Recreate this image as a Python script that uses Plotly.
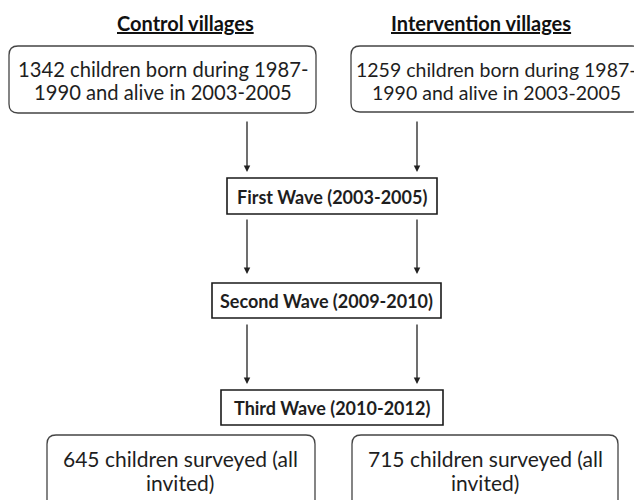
import plotly.graph_objects as go

# ---- content (data) ----
group_titles = ["Control villages", "Intervention villages"]
cohort_lines = [
    ["1342 children born during 1987-", "1990 and alive in 2003-2005"],
    ["1259 children born during 1987-", "1990 and alive in 2003-2005"],
]
wave_labels = ["First Wave (2003-2005)", "Second Wave (2009-2010)", "Third Wave (2010-2012)"]
surveyed_lines = [
    ["645 children surveyed (all", "invited)"],
    ["715 children surveyed (all", "invited)"],
]

# ---- layout geometry (page pixels, y downward) ----
W, H = 642, 500
BODY = 8  # default page body margin
title_pos = [(185, 23), (481, 23)]
top_boxes = [(9, 46, 316, 113), (351, 46, 641, 112)]
top_text_x = [163, 496]
top_text_size = [20.2, 19.5]
top_text_y = [69, 92]
wave_boxes = [(227, 178, 437, 214), (212, 283, 441, 318), (221, 390, 443, 425)]
wave_text_y = [197, 301, 408]
bottom_boxes = [(47, 435, 315, 520), (352, 435, 618, 520)]
bottom_text_x = [180, 485]
bottom_text_y = [458, 482]
arrow_x = [247, 417]
arrow_segments = [(120, 172), (218, 274), (323, 384)]

FONT = "Lato"
TEXT_COLOR = "#1e1e1e"
BOX_FONT = 21


def rounded_rect(x0, y0, x1, y1, r=9):
    return (f"M {x0+r},{y0} L {x1-r},{y0} Q {x1},{y0} {x1},{y0+r} "
            f"L {x1},{y1-r} Q {x1},{y1} {x1-r},{y1} L {x0+r},{y1} "
            f"Q {x0},{y1} {x0},{y1-r} L {x0},{y0+r} Q {x0},{y0} {x0+r},{y0} Z")


fig = go.Figure()
shapes = []
annotations = []

# group titles
for (tx, ty), t in zip(title_pos, group_titles):
    annotations.append(dict(x=tx, y=ty, text=f"<b><u>{t}</u></b>", showarrow=False,
                            xanchor="center", yanchor="middle",
                            font=dict(family=FONT, size=20, color="#111111")))

# top rounded boxes
for (x0, y0, x1, y1), lines, cx, fs in zip(top_boxes, cohort_lines, top_text_x, top_text_size):
    shapes.append(dict(type="path", path=rounded_rect(x0, y0, x1, y1),
                       line=dict(color="#444444", width=1.3), fillcolor="white"))
    for ln, ly in zip(lines, top_text_y):
        annotations.append(dict(x=cx, y=ly, text=ln, showarrow=False,
                                xanchor="center", yanchor="middle",
                                font=dict(family=FONT, size=fs, color=TEXT_COLOR)))

# wave boxes
for (x0, y0, x1, y1), lab, ty in zip(wave_boxes, wave_labels, wave_text_y):
    shapes.append(dict(type="rect", x0=x0, y0=y0, x1=x1, y1=y1,
                       line=dict(color="#1a1a1a", width=1.6), fillcolor="white"))
    annotations.append(dict(x=(x0 + x1) / 2, y=ty, text=f"<b>{lab}</b>", showarrow=False,
                            xanchor="center", yanchor="middle",
                            font=dict(family=FONT, size=18, color=TEXT_COLOR)))

# bottom rounded boxes
for (x0, y0, x1, y1), lines, cx in zip(bottom_boxes, surveyed_lines, bottom_text_x):
    shapes.append(dict(type="path", path=rounded_rect(x0, y0, x1, y1),
                       line=dict(color="#444444", width=1.3), fillcolor="white"))
    for ln, ly in zip(lines, bottom_text_y):
        annotations.append(dict(x=cx, y=ly, text=ln, showarrow=False,
                                xanchor="center", yanchor="middle",
                                font=dict(family=FONT, size=BOX_FONT, color=TEXT_COLOR)))

# arrows
for (ys, ye) in arrow_segments:
    for axx in arrow_x:
        annotations.append(dict(x=axx, y=ye, ax=axx, ay=ys, xref="x", yref="y",
                                axref="x", ayref="y", text="", showarrow=True,
                                arrowhead=2, arrowsize=1, arrowwidth=1.3,
                                arrowcolor="#222222", standoff=0, startstandoff=0))

fig.update_layout(
    width=W - BODY, height=H - BODY, margin=dict(l=0, r=0, t=0, b=0),
    paper_bgcolor="white", plot_bgcolor="white",
    xaxis=dict(range=[BODY, W], visible=False, fixedrange=True),
    yaxis=dict(range=[H, BODY], visible=False, fixedrange=True),
    shapes=shapes, annotations=annotations, showlegend=False,
)

fig.write_html("out.html", config={"displayModeBar": False})
